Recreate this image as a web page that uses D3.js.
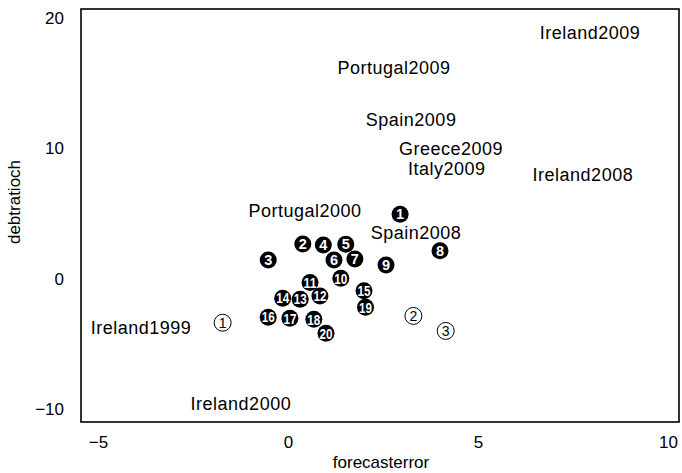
<!DOCTYPE html>
<html><head><meta charset="utf-8">
<script src="https://cdn.jsdelivr.net/npm/d3@7"></script>
<style>body{margin:0;background:#fff}svg{display:block}text{font-family:"Liberation Sans",Arial,sans-serif}</style>
</head><body>
<svg id="c" width="682" height="473"></svg>
<script>
// Text-labelled observations
const labelNames = ["Ireland2009","Portugal2009","Spain2009","Greece2009","Italy2009","Ireland2008","Portugal2000","Spain2008","Ireland1999","Ireland2000"];
const labelX = [7.95, 2.79, 3.24, 4.29, 4.18, 7.76, 0.45, 3.37, -3.87, -1.24];
const labelY = [18.9, 16.2, 12.2, 9.95, 8.4, 8.0, 5.2, 3.5, -3.8, -9.6];
// Filled numbered markers
const filledNums = [1,2,3,4,5,6,7,8,9,10,11,12,13,14,15,16,17,18,19,20];
const filledX = [2.95,0.39,-0.52,0.93,1.52,1.21,1.76,4.0,2.58,1.39,0.58,0.84,0.32,-0.14,2.0,-0.52,0.05,0.68,2.04,1.0];
const filledY = [4.95,2.66,1.43,2.59,2.64,1.43,1.51,2.15,1.05,0.03,-0.3,-1.33,-1.58,-1.5,-0.92,-2.96,-3.04,-3.12,-2.2,-4.19];
// Open numbered markers
const openNums = [1,2,3];
const openX = [-1.72, 3.30, 4.15];
const openY = [-3.38, -2.86, -4.01];
// Axis ticks
const xTicks = [-5,0,5,10];
const yTicks = [-10,0,10,20];

const svg = d3.select("#c");
const L=81, R=679, T=9, B=422;
const x = d3.scaleLinear().domain([-5,10]).range([98,668]);
const y = d3.scaleLinear().domain([-10,20]).range([409,18]);
const fmt = d => d<0 ? "\u2212"+Math.abs(d) : String(d);

svg.append("rect").attr("x",L).attr("y",T).attr("width",R-L).attr("height",B-T)
  .attr("fill","none").attr("stroke","#000").attr("stroke-width",1.6);

const xAxis = svg.append("g").attr("transform",`translate(0,${B})`)
  .call(d3.axisBottom(x).tickValues(xTicks).tickFormat(fmt).tickSize(0).tickPadding(14));
xAxis.select(".domain").remove();
xAxis.selectAll("text").attr("font-size",17).attr("fill","#000").attr("font-family","Liberation Sans, Arial, sans-serif");

const yAxis = svg.append("g").attr("transform",`translate(${L},0)`)
  .call(d3.axisLeft(y).tickValues(yTicks).tickFormat(fmt).tickSize(0).tickPadding(17));
yAxis.select(".domain").remove();
yAxis.selectAll("text").attr("font-size",17).attr("fill","#000").attr("font-family","Liberation Sans, Arial, sans-serif");

svg.append("text").attr("x",381).attr("y",468).attr("text-anchor","middle").attr("font-size",17).text("forecasterror");
svg.append("text").attr("transform","translate(20,202) rotate(-90)").attr("text-anchor","middle").attr("font-size",17).text("debtratioch");

// text labels
svg.append("g").selectAll("text").data(labelNames).join("text")
  .attr("x",(d,i)=>x(labelX[i])).attr("y",(d,i)=>y(labelY[i]))
  .attr("dy","0.35em").attr("text-anchor","middle").attr("font-size",18)
  .attr("letter-spacing","0.5").text(d=>d);

// filled markers
const fg = svg.append("g").selectAll("g").data(filledNums).join("g")
  .attr("transform",(d,i)=>`translate(${x(filledX[i])},${y(filledY[i])})`);
fg.append("circle").attr("r",8.5).attr("fill","#000");
fg.append("text").attr("text-anchor","middle").attr("dy","0.36em")
  .attr("font-size",14.5).attr("font-weight","bold").attr("fill","#fff")
  .each(function(d){ if(d>=10) d3.select(this).attr("textLength",13).attr("lengthAdjust","spacingAndGlyphs"); })
  .text(d=>d);

// open markers
const og = svg.append("g").selectAll("g").data(openNums).join("g")
  .attr("transform",(d,i)=>`translate(${x(openX[i])},${y(openY[i])})`);
og.append("circle").attr("r",8.5).attr("fill","none").attr("stroke","#000").attr("stroke-width",1);
og.append("text").attr("text-anchor","middle").attr("dy","0.36em")
  .attr("font-size",14).attr("fill","#000").text(d=>d);
</script>
</body></html>
